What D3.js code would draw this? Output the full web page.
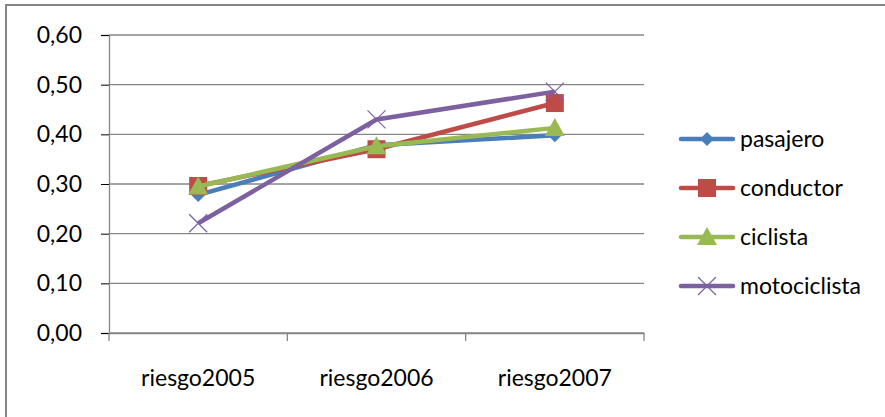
<!DOCTYPE html>
<html>
<head>
<meta charset="utf-8">
<script src="https://cdn.jsdelivr.net/npm/d3@7"></script>
<style>
    body { margin: 0; background: #fff; }
    text { font-family: Lato, "Open Sans", sans-serif; fill: #000; }
</style>
</head>
<body>
<svg id="chart"></svg>
<script>
// chart data
let categories = ["riesgo2005", "riesgo2006", "riesgo2007"];
let seriesNames = ["pasajero", "conductor", "ciclista", "motociclista"];
let pasajero = [0.278, 0.378, 0.398];
let conductor = [0.296, 0.370, 0.463];
let ciclista = [0.295, 0.376, 0.413];
let motociclista = [0.221, 0.430, 0.486];
let yTicks = [0, 0.1, 0.2, 0.3, 0.4, 0.5, 0.6];

let colors = ["#4a7ebb", "#be4b48", "#98b954", "#7d60a0"];
let shapes = ["diamond", "square", "triangle", "x"];
let series = [pasajero, conductor, ciclista, motociclista].map((vals, i) => ({
    name: seriesNames[i], values: vals, color: colors[i], shape: shapes[i]
}));

let fontSize = '23px';

let svg = d3.select('#chart')
    .attr('width', 885).attr('height', 417);

// outer frame (only top and left visible in the picture)
svg.append('rect')
    .attr('x', 6).attr('y', 5).attr('width', 900).attr('height', 430)
    .attr('fill', 'none').attr('stroke', '#868686').attr('stroke-width', 2);

let scX = d3.scaleBand()
    .domain(categories)
    .range([109, 644]);
let scY = d3.scaleLinear()
    .domain([0, 0.6])
    .range([333, 35]);

// gridlines
svg.selectAll('line.grid')
    .data(yTicks).enter().append('line')
    .attr('class', 'grid')
    .attr('x1', 109).attr('x2', 644)
    .attr('y1', d => scY(d)).attr('y2', d => scY(d))
    .attr('stroke', '#868686').attr('stroke-width', 1.3);

// y axis
let fmt = d => d3.format('.2f')(d).replace('.', ',');
let yAxis = svg.append('g')
    .attr('transform', 'translate(109,0)')
    .call(d3.axisLeft(scY).tickValues(yTicks).tickFormat(fmt).tickSize(8).tickPadding(19));
yAxis.selectAll('text').style('font-size', fontSize).attr('fill', '#000');

// x axis
let xAxis = svg.append('g')
    .attr('transform', 'translate(0,333)')
    .call(d3.axisBottom(scX).tickSize(0).tickPadding(37));
xAxis.selectAll('text').style('font-size', fontSize).attr('fill', '#000');
xAxis.selectAll('.tick').append('line')
    .attr('x1', scX.bandwidth() / 2).attr('x2', scX.bandwidth() / 2)
    .attr('y1', 0).attr('y2', 8)
    .attr('stroke', '#868686').attr('stroke-width', 1.3);
svg.append('line')
    .attr('x1', 109).attr('x2', 109).attr('y1', 333).attr('y2', 341)
    .attr('stroke', '#868686').attr('stroke-width', 1.3);
svg.selectAll('.domain').attr('stroke', '#868686').attr('stroke-width', 1.3);

function marker(g, shape, color, x, y) {
    if (shape === 'diamond') {
        g.append('path').attr('d', `M${x},${y - 7}L${x + 7},${y}L${x},${y + 7}L${x - 7},${y}Z`)
            .attr('fill', color);
    } else if (shape === 'square') {
        g.append('rect').attr('x', x - 9).attr('y', y - 9).attr('width', 18).attr('height', 18)
            .attr('fill', color);
    } else if (shape === 'triangle') {
        g.append('path').attr('d', `M${x},${y - 10}L${x + 10},${y + 8}L${x - 10},${y + 8}Z`)
            .attr('fill', color);
    } else {
        g.append('path').attr('d', `M${x - 9},${y - 9}L${x + 9},${y + 9}M${x - 9},${y + 9}L${x + 9},${y - 9}`)
            .attr('stroke', color).attr('stroke-width', 1.2).attr('fill', 'none');
    }
}

let line = d3.line()
    .x((d, i) => scX(categories[i]) + scX.bandwidth() / 2)
    .y(d => scY(d));

// series lines with markers
series.forEach(s => {
    let g = svg.append('g');
    g.append('path')
        .datum(s.values)
        .attr('d', line)
        .attr('fill', 'none').attr('stroke', s.color)
        .attr('stroke-width', 4.5).attr('stroke-linejoin', 'round');
    s.values.forEach((v, i) => {
        marker(g, s.shape, s.color, scX(categories[i]) + scX.bandwidth() / 2, scY(v));
    });
});

// legend
let legY = d3.scalePoint().domain(seriesNames).range([139, 286]);
series.forEach(s => {
    let g = svg.append('g');
    let y = legY(s.name);
    g.append('line')
        .attr('x1', 681).attr('x2', 733).attr('y1', y).attr('y2', y)
        .attr('stroke', s.color).attr('stroke-width', 4.5).attr('stroke-linecap', 'round');
    marker(g, s.shape, s.color, 707, y);
    g.append('text')
        .attr('x', 740).attr('y', y).attr('dy', '0.35em')
        .style('font-size', fontSize)
        .text(s.name);
});
</script>
</body>
</html>
